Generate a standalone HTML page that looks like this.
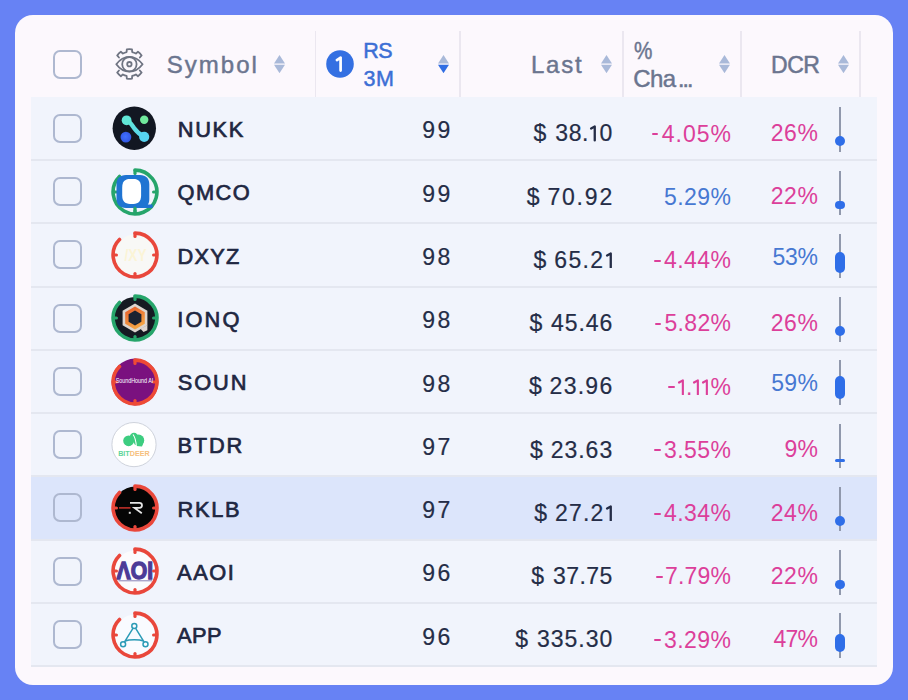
<!DOCTYPE html>
<html><head><meta charset="utf-8">
<style>
*{margin:0;padding:0;box-sizing:border-box}
html,body{width:908px;height:700px;overflow:hidden;background:#6782f4;font-family:"Liberation Sans",sans-serif}
.card{position:absolute;left:15px;top:15px;width:878px;height:670px;border-radius:18px;background:#fcf8fd}
.abs{position:absolute}
.bodybg{position:absolute;left:31px;top:96.7px;width:846px;height:570.5px;background:#f1f4fc}
.vd{position:absolute;top:31px;width:1.6px;height:65.5px;background:#ebe7f0}
.cb{position:absolute;left:53px;width:29px;height:29px;border:2px solid #aeb8d0;border-radius:7px}
.sep{position:absolute;left:31px;width:846px;height:2px;background:#e4e7f0}
.t{position:absolute;white-space:nowrap;line-height:1;font-family:"Liberation Sans",sans-serif}
.line{position:absolute;left:838.8px;width:1.9px;height:44.6px;background:#9098ac}
.body{position:absolute;background:#2f6ee8}
.arr{position:absolute;width:11px;height:18.2px}
.logo{position:absolute;width:52px;height:52px}
.logo svg{display:block}
</style></head><body>
<div class="card"></div>
<div class="bodybg"></div>
<div class="abs" style="left:31px;top:476.40px;width:846px;height:63.26px;background:#dce5fb"></div>
<div class="sep" style="top:159px"></div>
<div class="sep" style="top:222px"></div>
<div class="sep" style="top:286px"></div>
<div class="sep" style="top:349px"></div>
<div class="sep" style="top:412px"></div>
<div class="sep" style="top:475px"></div>
<div class="sep" style="top:539px"></div>
<div class="sep" style="top:602px"></div>
<div class="sep" style="top:665px"></div>
<div class="cb" style="top:113.87px"></div>
<div class="logo" style="left:109.3px;top:102.57px"><svg width="52" height="52" viewBox="0 0 52 52"><defs><linearGradient id="nk" x1="0" y1="0" x2="1" y2="1"><stop offset="0" stop-color="#62e6d6"/><stop offset="1" stop-color="#56d4f2"/></linearGradient><radialGradient id="nb" cx="0.45" cy="0.45" r="0.6"><stop offset="0" stop-color="#4070ff"/><stop offset="1" stop-color="#3155e0"/></radialGradient></defs><circle cx="25.3" cy="25.2" r="21.7" fill="#121722"/><path d="M17.5 17.4C21 18.5 22.5 21.5 25 25S30.5 31.5 35.2 33.8" fill="none" stroke="url(#nk)" stroke-width="4.4" stroke-linecap="round"/><circle cx="17.6" cy="17.3" r="4.9" fill="#61e7d7"/><circle cx="35.2" cy="16.7" r="4.2" fill="#70e89c"/><circle cx="16.9" cy="34.1" r="5.4" fill="url(#nb)"/><circle cx="35.2" cy="33.8" r="5.1" fill="#57d4f2"/></svg></div>
<div class="line" style="top:107.24px"></div>
<div class="body" style="top:136.04px;height:10px;width:10px;left:834.80px;border-radius:5.0px"></div>
<div class="cb" style="top:177.13px"></div>
<div class="logo" style="left:109.3px;top:165.83px"><svg width="52" height="52" viewBox="0 0 52 52"><path d="M26 4.1A21.9 21.9 0 1 1 10.51 10.51" fill="none" stroke="#26a56b" stroke-width="3.6" stroke-linecap="round"/><g stroke="#26a56b" stroke-width="3.2" stroke-linecap="round"><path d="M26 4.5V7.4"/><path d="M47.5 26H44.6"/><path d="M26 47.5V44.6"/><path d="M4.5 26H7.4"/></g><path d="M17 9H31C37 9 40.3 12.5 40.3 18.5V33C40.3 35.5 39.8 37.3 38.8 38.6H43.6V42H17C10.8 42 7.5 38.5 7.5 32.5V18.5C7.5 12.5 10.8 9 17 9Z" fill="#1f74d2"/><path d="M21 12.9H24.5C29.5 12.9 32.1 15.5 32.1 21.5V29.3C32.1 35.3 29.5 37.9 24.5 37.9H21C15.8 37.9 13.2 35.3 13.2 29.3V21.5C13.2 15.5 15.8 12.9 21 12.9Z" fill="#ffffff"/><path d="M26 42.2V47.5" stroke="#26a56b" stroke-width="3.2" stroke-linecap="round"/></svg></div>
<div class="line" style="top:170.50px"></div>
<div class="body" style="top:200.50px;height:8.6px;width:9.8px;left:834.90px;border-radius:4.3px"></div>
<div class="cb" style="top:240.39px"></div>
<div class="logo" style="left:109.3px;top:229.09px"><svg width="52" height="52" viewBox="0 0 52 52"><circle cx="26" cy="26" r="20.5" fill="#f8f8f6"/><text x="26.5" y="32" font-family="Liberation Sans" font-size="17" font-weight="bold" fill="#fbf4d6" text-anchor="middle" textLength="22" lengthAdjust="spacingAndGlyphs">/XY</text><path d="M26 4.1A21.9 21.9 0 1 1 10.51 10.51" fill="none" stroke="#e9473b" stroke-width="3.6" stroke-linecap="round"/><g stroke="#e9473b" stroke-width="3.2" stroke-linecap="round"><path d="M26 4.5V7.4"/><path d="M47.5 26H44.6"/><path d="M26 47.5V44.6"/><path d="M4.5 26H7.4"/></g></svg></div>
<div class="line" style="top:233.76px"></div>
<div class="body" style="top:252.46px;height:20.1px;width:10px;left:834.80px;border-radius:5.0px"></div>
<div class="cb" style="top:303.65px"></div>
<div class="logo" style="left:109.3px;top:292.35px"><svg width="52" height="52" viewBox="0 0 52 52"><defs><linearGradient id="iq" x1="0" y1="0" x2="0.4" y2="1"><stop offset="0" stop-color="#e65a2a"/><stop offset="1" stop-color="#f4a444"/></linearGradient></defs><circle cx="26" cy="26" r="21" fill="#151a22"/><path d="M26 4.1A21.9 21.9 0 1 1 10.51 10.51" fill="none" stroke="#26a56b" stroke-width="3.6" stroke-linecap="round"/><g stroke="#26a56b" stroke-width="3.2" stroke-linecap="round"><path d="M26 4.5V7.4"/><path d="M47.5 26H44.6"/><path d="M26 47.5V44.6"/><path d="M4.5 26H7.4"/></g><path d="M26 11.6L38.4 18.8V33.2L26 40.4L13.6 33.2V18.8Z" fill="#dcd5cf"/><path d="M26 14.6L35.8 20.3V31.7L26 37.4L16.2 31.7V20.3Z" fill="url(#iq)"/><path d="M26 18.6L32.4 22.3V29.7L26 33.4L19.6 29.7V22.3Z" fill="#1a2231"/><path d="M31.5 36.8L38.4 33V38.3L34.5 40Z" fill="#dcd5cf"/></svg></div>
<div class="line" style="top:297.02px"></div>
<div class="body" style="top:326.02px;height:10px;width:10px;left:834.80px;border-radius:5.0px"></div>
<div class="cb" style="top:366.91px"></div>
<div class="logo" style="left:109.3px;top:355.61px"><svg width="52" height="52" viewBox="0 0 52 52"><circle cx="26" cy="26" r="23.4" fill="#7a117f"/><path d="M26 4.1A21.9 21.9 0 1 1 10.51 10.51" fill="none" stroke="#ee4a35" stroke-width="3.6" stroke-linecap="round"/><g stroke="#ee4a35" stroke-width="3.2" stroke-linecap="round"><path d="M26 4.5V7.4"/><path d="M47.5 26H44.6"/><path d="M26 47.5V44.6"/><path d="M4.5 26H7.4"/></g><text x="25.5" y="27.4" font-family="Liberation Sans" font-size="6.8" fill="#ffffff" text-anchor="middle" textLength="37.5" lengthAdjust="spacingAndGlyphs">SoundHound AI</text></svg></div>
<div class="line" style="top:360.28px"></div>
<div class="body" style="top:375.58px;height:23.6px;width:10px;left:834.80px;border-radius:5.0px"></div>
<div class="cb" style="top:430.17px"></div>
<div class="logo" style="left:109.3px;top:418.87px"><svg width="52" height="52" viewBox="0 0 52 52"><circle cx="25" cy="25.6" r="22.1" fill="#ffffff" stroke="#cfd3dc" stroke-width="1"/><g fill="#3dcd80"><circle cx="19.6" cy="21.8" r="5.4"/><circle cx="29.6" cy="21.2" r="5.6"/><circle cx="25" cy="18" r="4.2"/><path d="M26 22L35 22.5L33 27.4L27.5 27Z"/></g><path d="M24 15.5C26 18 27 22 27.3 27.5" stroke="#ffffff" stroke-width="1.1" fill="none"/><text x="24.9" y="37.2" font-family="Liberation Sans" font-size="6.6" font-weight="bold" text-anchor="middle" textLength="31.5" lengthAdjust="spacingAndGlyphs"><tspan fill="#5fd59a">BIT</tspan><tspan fill="#f6c07d">DEER</tspan></text></svg></div>
<div class="line" style="top:423.54px"></div>
<div class="body" style="top:458.54px;height:3.8px;width:10.5px;left:834.55px;border-radius:1.9px"></div>
<div class="cb" style="top:493.43px"></div>
<div class="logo" style="left:109.3px;top:482.13px"><svg width="52" height="52" viewBox="0 0 52 52"><circle cx="26" cy="26" r="21.5" fill="#050505"/><path d="M26 4.1A21.9 21.9 0 1 1 10.51 10.51" fill="none" stroke="#e9473b" stroke-width="3.6" stroke-linecap="round"/><g stroke="#e9473b" stroke-width="3.2" stroke-linecap="round"><path d="M26 4.5V7.4"/><path d="M47.5 26H44.6"/><path d="M26 47.5V44.6"/><path d="M4.5 26H7.4"/></g><path d="M21 20.9H30.5C33.6 20.9 34 25.7 30.5 25.9H25.5L32.8 31.2" fill="none" stroke="#e6e6e6" stroke-width="1.8"/><path d="M10 25.9H21.5" stroke="#d8342c" stroke-width="1.4"/><rect x="19.8" y="29.8" width="2" height="2" fill="#d9d9d9"/></svg></div>
<div class="line" style="top:486.80px"></div>
<div class="body" style="top:516.40px;height:10px;width:10px;left:834.80px;border-radius:5.0px"></div>
<div class="cb" style="top:556.69px"></div>
<div class="logo" style="left:109.3px;top:545.39px"><svg width="52" height="52" viewBox="0 0 52 52"><circle cx="26" cy="26" r="20.5" fill="#fbfbfd"/><text x="25.8" y="33.6" font-family="Liberation Sans" font-size="24" font-weight="bold" fill="#4c3b97" stroke="#4c3b97" stroke-width="1.3" text-anchor="middle" textLength="36.5" lengthAdjust="spacingAndGlyphs">&#923;OI</text><path d="M9.5 35.8H43" stroke="#7d74b0" stroke-width="0.9"/><path d="M26 4.1A21.9 21.9 0 1 1 10.51 10.51" fill="none" stroke="#e9473b" stroke-width="3.6" stroke-linecap="round"/><g stroke="#e9473b" stroke-width="3.2" stroke-linecap="round"><path d="M26 4.5V7.4"/><path d="M47.5 26H44.6"/><path d="M26 47.5V44.6"/><path d="M4.5 26H7.4"/></g></svg></div>
<div class="line" style="top:550.06px"></div>
<div class="body" style="top:580.36px;height:8.8px;width:9.6px;left:835.00px;border-radius:4.4px"></div>
<div class="cb" style="top:619.95px"></div>
<div class="logo" style="left:109.3px;top:608.65px"><svg width="52" height="52" viewBox="0 0 52 52"><circle cx="26" cy="26" r="20.5" fill="#f9fbff"/><path d="M26 4.1A21.9 21.9 0 1 1 10.51 10.51" fill="none" stroke="#e9473b" stroke-width="3.6" stroke-linecap="round"/><g stroke="#e9473b" stroke-width="3.2" stroke-linecap="round"><path d="M26 4.5V7.4"/><path d="M47.5 26H44.6"/><path d="M26 47.5V44.6"/><path d="M4.5 26H7.4"/></g><g fill="none" stroke="#2b9bb6" stroke-width="1.5"><path d="M24.1 19.2L15.4 33.2M26.5 19.2L35.2 33.2M16.4 32C20 30.3 30.5 30.3 34.3 32"/><circle cx="25.3" cy="17.05" r="2.5" fill="#f9fbff"/><circle cx="14.1" cy="35.25" r="2.5" fill="#f9fbff"/><circle cx="36.5" cy="35.25" r="2.5" fill="#f9fbff"/></g></svg></div>
<div class="line" style="top:613.32px"></div>
<div class="body" style="top:634.02px;height:18px;width:10px;left:834.80px;border-radius:5.0px"></div>
<div class="abs" style="left:651.90px;top:133px;width:6.6px;height:2px;border-radius:1px;background:#dc3f9a"></div>
<div class="abs" style="left:654.10px;top:260px;width:6.6px;height:2px;border-radius:1px;background:#dc3f9a"></div>
<div class="abs" style="left:654.60px;top:323px;width:6.6px;height:2px;border-radius:1px;background:#dc3f9a"></div>
<div class="abs" style="left:668.20px;top:386px;width:6.6px;height:2px;border-radius:1px;background:#dc3f9a"></div>
<div class="abs" style="left:654.10px;top:449px;width:6.6px;height:2px;border-radius:1px;background:#dc3f9a"></div>
<div class="abs" style="left:654.10px;top:513px;width:6.6px;height:2px;border-radius:1px;background:#dc3f9a"></div>
<div class="abs" style="left:656.00px;top:576px;width:6.6px;height:2px;border-radius:1px;background:#dc3f9a"></div>
<div class="abs" style="left:654.10px;top:639px;width:6.6px;height:2px;border-radius:1px;background:#dc3f9a"></div>

<!-- header -->
<div class="cb" style="top:50px"></div>
<svg class="abs" style="left:114px;top:48px" width="31" height="32" viewBox="0 0 31 32">
  <g fill="none" stroke="#6f7482" stroke-width="1.8" stroke-linejoin="round" stroke-linecap="round">
    <path d="M4.97 9.48L3.19 7.45A14.9 14.9 0 0 1 6.85 3.79L8.88 5.57A12.3 12.3 0 0 1 12.63 4.02L12.81 1.33A14.9 14.9 0 0 1 17.99 1.33L18.17 4.02A12.3 12.3 0 0 1 21.92 5.57L23.95 3.79A14.9 14.9 0 0 1 27.61 7.45L25.83 9.48"/><path d="M25.83 22.52L27.61 24.55A14.9 14.9 0 0 1 23.95 28.21L21.92 26.43A12.3 12.3 0 0 1 18.17 27.98L17.99 30.67A14.9 14.9 0 0 1 12.81 30.67L12.63 27.98A12.3 12.3 0 0 1 8.88 26.43L6.85 28.21A14.9 14.9 0 0 1 3.19 24.55L4.97 22.52"/>
    <path d="M2.3 16.3C6 11.3 10.2 8.9 15.4 8.9S24.8 11.3 28.6 16.3C24.8 21.3 20.6 23.7 15.4 23.7S6 21.3 2.3 16.3Z"/>
    <circle cx="15.4" cy="16.2" r="7.2"/>
    <circle cx="15.4" cy="16.2" r="2.2"/>
  </g>
</svg>
<svg class="arr" style="left:274px;top:55.1px" viewBox="0 0 11 18.2"><path d="M5.5 0L11 8.5H0z" fill="#a9b9d9"/><path d="M5.5 18.2L11 9.7H0z" fill="#a9b9d9"/></svg>
<div class="vd" style="left:314.6px"></div>
<svg class="abs" style="left:326px;top:50px" width="28" height="28" viewBox="0 0 28 28"><circle cx="14" cy="14" r="13.8" fill="#3470e2"/><path d="M10.9 10.1L14.6 7.6V20.6" fill="none" stroke="#fff" stroke-width="2.7" stroke-linecap="round" stroke-linejoin="round"/></svg>
<svg class="arr" style="left:438.4px;top:55.1px" viewBox="0 0 11 18.2"><path d="M5.5 0L11 8.5H0z" fill="#a9b9d9"/><path d="M5.5 18.2L11 9.7H0z" fill="#306de3"/></svg>
<div class="vd" style="left:459.2px"></div>
<svg class="arr" style="left:600.7px;top:55.1px" viewBox="0 0 11 18.2"><path d="M5.5 0L11 8.5H0z" fill="#a9b9d9"/><path d="M5.5 18.2L11 9.7H0z" fill="#a9b9d9"/></svg>
<div class="vd" style="left:622px"></div>
<svg class="arr" style="left:719.1px;top:55.1px" viewBox="0 0 11 18.2"><path d="M5.5 0L11 8.5H0z" fill="#a9b9d9"/><path d="M5.5 18.2L11 9.7H0z" fill="#a9b9d9"/></svg>
<div class="vd" style="left:740px"></div>
<svg class="arr" style="left:837.9px;top:55.1px" viewBox="0 0 11 18.2"><path d="M5.5 0L11 8.5H0z" fill="#a9b9d9"/><path d="M5.5 18.2L11 9.7H0z" fill="#a9b9d9"/></svg>
<div class="vd" style="left:859px"></div>

<span class="t" style="left:166.80px;top:53.08px;font-size:24px;color:#6b758f;-webkit-text-stroke:0.45px #6b758f">S</span>
<span class="t" style="left:184.81px;top:53.08px;font-size:24px;color:#6b758f;-webkit-text-stroke:0.45px #6b758f">y</span>
<span class="t" style="left:198.81px;top:53.08px;font-size:24px;color:#6b758f;-webkit-text-stroke:0.45px #6b758f">m</span>
<span class="t" style="left:220.80px;top:53.08px;font-size:24px;color:#6b758f;-webkit-text-stroke:0.45px #6b758f">b</span>
<span class="t" style="left:236.15px;top:53.08px;font-size:24px;color:#6b758f;-webkit-text-stroke:0.45px #6b758f">o</span>
<span class="t" style="left:251.50px;top:53.08px;font-size:24px;color:#6b758f;-webkit-text-stroke:0.45px #6b758f">l</span>
<span class="t" style="left:363.20px;top:41.00px;font-size:21.5px;color:#3c6fd5;-webkit-text-stroke:0.5px #3c6fd5">R</span>
<span class="t" style="left:378.30px;top:41.00px;font-size:21.5px;color:#3c6fd5;-webkit-text-stroke:0.5px #3c6fd5">S</span>
<span class="t" style="left:363.40px;top:69.10px;font-size:21.5px;color:#3c6fd5;-webkit-text-stroke:0.5px #3c6fd5">3</span>
<span class="t" style="left:376.10px;top:69.10px;font-size:21.5px;color:#3c6fd5;-webkit-text-stroke:0.5px #3c6fd5">M</span>
<span class="t" style="left:531.00px;top:52.88px;font-size:24px;color:#6b758f;-webkit-text-stroke:0.45px #6b758f">L</span>
<span class="t" style="left:546.12px;top:52.88px;font-size:24px;color:#6b758f;-webkit-text-stroke:0.45px #6b758f">a</span>
<span class="t" style="left:561.23px;top:52.88px;font-size:24px;color:#6b758f;-webkit-text-stroke:0.45px #6b758f">s</span>
<span class="t" style="left:575.00px;top:52.88px;font-size:24px;color:#6b758f;-webkit-text-stroke:0.45px #6b758f">t</span>
<span class="t" style="left:634.00px;top:39.51px;font-size:23.5px;color:#6b758f;-webkit-text-stroke:0.45px #6b758f;transform:scaleX(0.88);transform-origin:0 0">%</span>
<span class="t" style="left:633.20px;top:66.88px;font-size:24px;color:#6b758f;-webkit-text-stroke:0.45px #6b758f">C</span>
<span class="t" style="left:649.99px;top:66.88px;font-size:24px;color:#6b758f;-webkit-text-stroke:0.45px #6b758f">h</span>
<span class="t" style="left:662.80px;top:66.88px;font-size:24px;color:#6b758f;-webkit-text-stroke:0.45px #6b758f">a</span>
<span class="t" style="left:678.00px;top:67.73px;font-size:23px;color:#6b758f;-webkit-text-stroke:0.5px #6b758f">.</span>
<span class="t" style="left:682.50px;top:67.73px;font-size:23px;color:#6b758f;-webkit-text-stroke:0.5px #6b758f">.</span>
<span class="t" style="left:687.00px;top:67.73px;font-size:23px;color:#6b758f;-webkit-text-stroke:0.5px #6b758f">.</span>
<span class="t" style="left:771.00px;top:53.73px;font-size:23px;color:#6b758f;-webkit-text-stroke:0.5px #6b758f">D</span>
<span class="t" style="left:787.15px;top:53.73px;font-size:23px;color:#6b758f;-webkit-text-stroke:0.5px #6b758f">C</span>
<span class="t" style="left:803.30px;top:53.73px;font-size:23px;color:#6b758f;-webkit-text-stroke:0.5px #6b758f">R</span>
<span class="t" style="left:177.70px;top:118.99px;font-size:21.8px;color:#1f2742;-webkit-text-stroke:0.7px #1f2742">N</span>
<span class="t" style="left:195.13px;top:118.99px;font-size:21.8px;color:#1f2742;-webkit-text-stroke:0.7px #1f2742">U</span>
<span class="t" style="left:212.57px;top:118.99px;font-size:21.8px;color:#1f2742;-webkit-text-stroke:0.7px #1f2742">K</span>
<span class="t" style="left:228.80px;top:118.99px;font-size:21.8px;color:#1f2742;-webkit-text-stroke:0.7px #1f2742">K</span>
<span class="t" style="left:422.30px;top:119.47px;font-size:23px;color:#252d47;-webkit-text-stroke:0.2px #252d47">9</span>
<span class="t" style="left:437.50px;top:119.47px;font-size:23px;color:#252d47;-webkit-text-stroke:0.2px #252d47">9</span>
<span class="t" style="left:533.50px;top:122.37px;font-size:23px;color:#252d47;-webkit-text-stroke:0.2px #252d47">$</span>
<span class="t" style="left:555.20px;top:122.37px;font-size:23px;color:#252d47;-webkit-text-stroke:0.2px #252d47">3</span>
<span class="t" style="left:568.66px;top:122.37px;font-size:23px;color:#252d47;-webkit-text-stroke:0.2px #252d47">8</span>
<span class="t" style="left:582.12px;top:122.37px;font-size:23px;color:#252d47;-webkit-text-stroke:0.2px #252d47">.</span>
<svg class="abs" style="left:589.18px;top:123.44px" width="9.7" height="18.4" viewBox="0 0 9.66 18.40"><path d="M2.07 5.52L5.74 3.46V17.44" fill="none" stroke="#252d47" stroke-width="2.32" stroke-linecap="round" stroke-linejoin="round"/></svg>
<span class="t" style="left:599.40px;top:122.37px;font-size:23px;color:#252d47;-webkit-text-stroke:0.2px #252d47">0</span>
<span class="t" style="left:661.80px;top:122.57px;font-size:23px;color:#dc3f9a;-webkit-text-stroke:0px #dc3f9a">4</span>
<span class="t" style="left:675.58px;top:122.57px;font-size:23px;color:#dc3f9a;-webkit-text-stroke:0px #dc3f9a">.</span>
<span class="t" style="left:682.95px;top:122.57px;font-size:23px;color:#dc3f9a;-webkit-text-stroke:0px #dc3f9a">0</span>
<span class="t" style="left:696.72px;top:122.57px;font-size:23px;color:#dc3f9a;-webkit-text-stroke:0px #dc3f9a">5</span>
<span class="t" style="left:710.50px;top:122.57px;font-size:23px;color:#dc3f9a;-webkit-text-stroke:0px #dc3f9a">%</span>
<span class="t" style="left:770.80px;top:122.07px;font-size:23px;color:#dc3f9a;-webkit-text-stroke:0px #dc3f9a">2</span>
<span class="t" style="left:784.10px;top:122.07px;font-size:23px;color:#dc3f9a;-webkit-text-stroke:0px #dc3f9a">6</span>
<span class="t" style="left:797.40px;top:122.07px;font-size:23px;color:#dc3f9a;-webkit-text-stroke:0px #dc3f9a">%</span>
<span class="t" style="left:177.50px;top:182.25px;font-size:21.8px;color:#1f2742;-webkit-text-stroke:0.7px #1f2742">Q</span>
<span class="t" style="left:195.94px;top:182.25px;font-size:21.8px;color:#1f2742;-webkit-text-stroke:0.7px #1f2742">M</span>
<span class="t" style="left:215.58px;top:182.25px;font-size:21.8px;color:#1f2742;-webkit-text-stroke:0.7px #1f2742">C</span>
<span class="t" style="left:232.80px;top:182.25px;font-size:21.8px;color:#1f2742;-webkit-text-stroke:0.7px #1f2742">O</span>
<span class="t" style="left:422.30px;top:182.73px;font-size:23px;color:#252d47;-webkit-text-stroke:0.2px #252d47">9</span>
<span class="t" style="left:437.50px;top:182.73px;font-size:23px;color:#252d47;-webkit-text-stroke:0.2px #252d47">9</span>
<span class="t" style="left:526.70px;top:185.63px;font-size:23px;color:#252d47;-webkit-text-stroke:0.2px #252d47">$</span>
<span class="t" style="left:547.40px;top:185.63px;font-size:23px;color:#252d47;-webkit-text-stroke:0.2px #252d47">7</span>
<span class="t" style="left:562.00px;top:185.63px;font-size:23px;color:#252d47;-webkit-text-stroke:0.2px #252d47">0</span>
<span class="t" style="left:576.60px;top:185.63px;font-size:23px;color:#252d47;-webkit-text-stroke:0.2px #252d47">.</span>
<span class="t" style="left:584.80px;top:185.63px;font-size:23px;color:#252d47;-webkit-text-stroke:0.2px #252d47">9</span>
<span class="t" style="left:599.40px;top:185.63px;font-size:23px;color:#252d47;-webkit-text-stroke:0.2px #252d47">2</span>
<span class="t" style="left:663.90px;top:185.83px;font-size:23px;color:#4778d2;-webkit-text-stroke:0px #4778d2">5</span>
<span class="t" style="left:677.15px;top:185.83px;font-size:23px;color:#4778d2;-webkit-text-stroke:0px #4778d2">.</span>
<span class="t" style="left:684.00px;top:185.83px;font-size:23px;color:#4778d2;-webkit-text-stroke:0px #4778d2">2</span>
<span class="t" style="left:697.25px;top:185.83px;font-size:23px;color:#4778d2;-webkit-text-stroke:0px #4778d2">9</span>
<span class="t" style="left:710.50px;top:185.83px;font-size:23px;color:#4778d2;-webkit-text-stroke:0px #4778d2">%</span>
<span class="t" style="left:770.80px;top:185.33px;font-size:23px;color:#dc3f9a;-webkit-text-stroke:0px #dc3f9a">2</span>
<span class="t" style="left:784.10px;top:185.33px;font-size:23px;color:#dc3f9a;-webkit-text-stroke:0px #dc3f9a">2</span>
<span class="t" style="left:797.40px;top:185.33px;font-size:23px;color:#dc3f9a;-webkit-text-stroke:0px #dc3f9a">%</span>
<span class="t" style="left:177.50px;top:245.51px;font-size:21.8px;color:#1f2742;-webkit-text-stroke:0.7px #1f2742">D</span>
<span class="t" style="left:194.50px;top:245.51px;font-size:21.8px;color:#1f2742;-webkit-text-stroke:0.7px #1f2742">X</span>
<span class="t" style="left:210.30px;top:245.51px;font-size:21.8px;color:#1f2742;-webkit-text-stroke:0.7px #1f2742">Y</span>
<span class="t" style="left:226.10px;top:245.51px;font-size:21.8px;color:#1f2742;-webkit-text-stroke:0.7px #1f2742">Z</span>
<span class="t" style="left:422.30px;top:245.99px;font-size:23px;color:#252d47;-webkit-text-stroke:0.2px #252d47">9</span>
<span class="t" style="left:437.50px;top:245.99px;font-size:23px;color:#252d47;-webkit-text-stroke:0.2px #252d47">8</span>
<span class="t" style="left:533.50px;top:248.89px;font-size:23px;color:#252d47;-webkit-text-stroke:0.2px #252d47">$</span>
<span class="t" style="left:554.20px;top:248.89px;font-size:23px;color:#252d47;-webkit-text-stroke:0.2px #252d47">6</span>
<span class="t" style="left:568.38px;top:248.89px;font-size:23px;color:#252d47;-webkit-text-stroke:0.2px #252d47">5</span>
<span class="t" style="left:582.55px;top:248.89px;font-size:23px;color:#252d47;-webkit-text-stroke:0.2px #252d47">.</span>
<span class="t" style="left:590.32px;top:248.89px;font-size:23px;color:#252d47;-webkit-text-stroke:0.2px #252d47">2</span>
<svg class="abs" style="left:604.50px;top:249.96px" width="9.7" height="18.4" viewBox="0 0 9.66 18.40"><path d="M2.07 5.52L5.74 3.46V17.44" fill="none" stroke="#252d47" stroke-width="2.32" stroke-linecap="round" stroke-linejoin="round"/></svg>
<span class="t" style="left:664.00px;top:249.09px;font-size:23px;color:#dc3f9a;-webkit-text-stroke:0px #dc3f9a">4</span>
<span class="t" style="left:677.23px;top:249.09px;font-size:23px;color:#dc3f9a;-webkit-text-stroke:0px #dc3f9a">.</span>
<span class="t" style="left:684.05px;top:249.09px;font-size:23px;color:#dc3f9a;-webkit-text-stroke:0px #dc3f9a">4</span>
<span class="t" style="left:697.27px;top:249.09px;font-size:23px;color:#dc3f9a;-webkit-text-stroke:0px #dc3f9a">4</span>
<span class="t" style="left:710.50px;top:249.09px;font-size:23px;color:#dc3f9a;-webkit-text-stroke:0px #dc3f9a">%</span>
<span class="t" style="left:772.60px;top:245.59px;font-size:23px;color:#4778d2;-webkit-text-stroke:0px #4778d2">5</span>
<span class="t" style="left:785.00px;top:245.59px;font-size:23px;color:#4778d2;-webkit-text-stroke:0px #4778d2">3</span>
<span class="t" style="left:797.40px;top:245.59px;font-size:23px;color:#4778d2;-webkit-text-stroke:0px #4778d2">%</span>
<span class="t" style="left:177.20px;top:308.77px;font-size:21.8px;color:#1f2742;-webkit-text-stroke:0.7px #1f2742">I</span>
<span class="t" style="left:185.41px;top:308.77px;font-size:21.8px;color:#1f2742;-webkit-text-stroke:0.7px #1f2742">O</span>
<span class="t" style="left:204.51px;top:308.77px;font-size:21.8px;color:#1f2742;-webkit-text-stroke:0.7px #1f2742">N</span>
<span class="t" style="left:222.40px;top:308.77px;font-size:21.8px;color:#1f2742;-webkit-text-stroke:0.7px #1f2742">Q</span>
<span class="t" style="left:422.30px;top:309.25px;font-size:23px;color:#252d47;-webkit-text-stroke:0.2px #252d47">9</span>
<span class="t" style="left:437.50px;top:309.25px;font-size:23px;color:#252d47;-webkit-text-stroke:0.2px #252d47">8</span>
<span class="t" style="left:529.40px;top:312.15px;font-size:23px;color:#252d47;-webkit-text-stroke:0.2px #252d47">$</span>
<span class="t" style="left:551.10px;top:312.15px;font-size:23px;color:#252d47;-webkit-text-stroke:0.2px #252d47">4</span>
<span class="t" style="left:564.78px;top:312.15px;font-size:23px;color:#252d47;-webkit-text-stroke:0.2px #252d47">5</span>
<span class="t" style="left:578.45px;top:312.15px;font-size:23px;color:#252d47;-webkit-text-stroke:0.2px #252d47">.</span>
<span class="t" style="left:585.72px;top:312.15px;font-size:23px;color:#252d47;-webkit-text-stroke:0.2px #252d47">4</span>
<span class="t" style="left:599.40px;top:312.15px;font-size:23px;color:#252d47;-webkit-text-stroke:0.2px #252d47">6</span>
<span class="t" style="left:664.50px;top:312.35px;font-size:23px;color:#dc3f9a;-webkit-text-stroke:0px #dc3f9a">5</span>
<span class="t" style="left:677.60px;top:312.35px;font-size:23px;color:#dc3f9a;-webkit-text-stroke:0px #dc3f9a">.</span>
<span class="t" style="left:684.30px;top:312.35px;font-size:23px;color:#dc3f9a;-webkit-text-stroke:0px #dc3f9a">8</span>
<span class="t" style="left:697.40px;top:312.35px;font-size:23px;color:#dc3f9a;-webkit-text-stroke:0px #dc3f9a">2</span>
<span class="t" style="left:710.50px;top:312.35px;font-size:23px;color:#dc3f9a;-webkit-text-stroke:0px #dc3f9a">%</span>
<span class="t" style="left:770.80px;top:311.85px;font-size:23px;color:#dc3f9a;-webkit-text-stroke:0px #dc3f9a">2</span>
<span class="t" style="left:784.10px;top:311.85px;font-size:23px;color:#dc3f9a;-webkit-text-stroke:0px #dc3f9a">6</span>
<span class="t" style="left:797.40px;top:311.85px;font-size:23px;color:#dc3f9a;-webkit-text-stroke:0px #dc3f9a">%</span>
<span class="t" style="left:177.80px;top:372.03px;font-size:21.8px;color:#1f2742;-webkit-text-stroke:0.7px #1f2742">S</span>
<span class="t" style="left:194.23px;top:372.03px;font-size:21.8px;color:#1f2742;-webkit-text-stroke:0.7px #1f2742">O</span>
<span class="t" style="left:213.07px;top:372.03px;font-size:21.8px;color:#1f2742;-webkit-text-stroke:0.7px #1f2742">U</span>
<span class="t" style="left:230.70px;top:372.03px;font-size:21.8px;color:#1f2742;-webkit-text-stroke:0.7px #1f2742">N</span>
<span class="t" style="left:422.30px;top:372.51px;font-size:23px;color:#252d47;-webkit-text-stroke:0.2px #252d47">9</span>
<span class="t" style="left:437.50px;top:372.51px;font-size:23px;color:#252d47;-webkit-text-stroke:0.2px #252d47">8</span>
<span class="t" style="left:528.90px;top:375.41px;font-size:23px;color:#252d47;-webkit-text-stroke:0.2px #252d47">$</span>
<span class="t" style="left:549.60px;top:375.41px;font-size:23px;color:#252d47;-webkit-text-stroke:0.2px #252d47">2</span>
<span class="t" style="left:563.65px;top:375.41px;font-size:23px;color:#252d47;-webkit-text-stroke:0.2px #252d47">3</span>
<span class="t" style="left:577.70px;top:375.41px;font-size:23px;color:#252d47;-webkit-text-stroke:0.2px #252d47">.</span>
<span class="t" style="left:585.35px;top:375.41px;font-size:23px;color:#252d47;-webkit-text-stroke:0.2px #252d47">9</span>
<span class="t" style="left:599.40px;top:375.41px;font-size:23px;color:#252d47;-webkit-text-stroke:0.2px #252d47">6</span>
<svg class="abs" style="left:676.72px;top:376.68px" width="9.7" height="18.4" viewBox="0 0 9.66 18.40"><path d="M2.01 5.52L5.84 3.36V17.54" fill="none" stroke="#dc3f9a" stroke-width="2.12" stroke-linecap="round" stroke-linejoin="round"/></svg>
<span class="t" style="left:685.95px;top:375.61px;font-size:23px;color:#dc3f9a;-webkit-text-stroke:0px #dc3f9a">.</span>
<svg class="abs" style="left:692.03px;top:376.68px" width="9.7" height="18.4" viewBox="0 0 9.66 18.40"><path d="M2.01 5.52L5.84 3.36V17.54" fill="none" stroke="#dc3f9a" stroke-width="2.12" stroke-linecap="round" stroke-linejoin="round"/></svg>
<svg class="abs" style="left:701.27px;top:376.68px" width="9.7" height="18.4" viewBox="0 0 9.66 18.40"><path d="M2.01 5.52L5.84 3.36V17.54" fill="none" stroke="#dc3f9a" stroke-width="2.12" stroke-linecap="round" stroke-linejoin="round"/></svg>
<span class="t" style="left:710.50px;top:375.61px;font-size:23px;color:#dc3f9a;-webkit-text-stroke:0px #dc3f9a">%</span>
<span class="t" style="left:771.30px;top:372.11px;font-size:23px;color:#4778d2;-webkit-text-stroke:0px #4778d2">5</span>
<span class="t" style="left:784.35px;top:372.11px;font-size:23px;color:#4778d2;-webkit-text-stroke:0px #4778d2">9</span>
<span class="t" style="left:797.40px;top:372.11px;font-size:23px;color:#4778d2;-webkit-text-stroke:0px #4778d2">%</span>
<span class="t" style="left:177.50px;top:435.29px;font-size:21.8px;color:#1f2742;-webkit-text-stroke:0.7px #1f2742">B</span>
<span class="t" style="left:193.87px;top:435.29px;font-size:21.8px;color:#1f2742;-webkit-text-stroke:0.7px #1f2742">T</span>
<span class="t" style="left:209.02px;top:435.29px;font-size:21.8px;color:#1f2742;-webkit-text-stroke:0.7px #1f2742">D</span>
<span class="t" style="left:226.60px;top:435.29px;font-size:21.8px;color:#1f2742;-webkit-text-stroke:0.7px #1f2742">R</span>
<span class="t" style="left:422.30px;top:435.77px;font-size:23px;color:#252d47;-webkit-text-stroke:0.2px #252d47">9</span>
<span class="t" style="left:437.50px;top:435.77px;font-size:23px;color:#252d47;-webkit-text-stroke:0.2px #252d47">7</span>
<span class="t" style="left:530.00px;top:438.67px;font-size:23px;color:#252d47;-webkit-text-stroke:0.2px #252d47">$</span>
<span class="t" style="left:550.70px;top:438.67px;font-size:23px;color:#252d47;-webkit-text-stroke:0.2px #252d47">2</span>
<span class="t" style="left:564.48px;top:438.67px;font-size:23px;color:#252d47;-webkit-text-stroke:0.2px #252d47">3</span>
<span class="t" style="left:578.25px;top:438.67px;font-size:23px;color:#252d47;-webkit-text-stroke:0.2px #252d47">.</span>
<span class="t" style="left:585.62px;top:438.67px;font-size:23px;color:#252d47;-webkit-text-stroke:0.2px #252d47">6</span>
<span class="t" style="left:599.40px;top:438.67px;font-size:23px;color:#252d47;-webkit-text-stroke:0.2px #252d47">3</span>
<span class="t" style="left:664.00px;top:438.87px;font-size:23px;color:#dc3f9a;-webkit-text-stroke:0px #dc3f9a">3</span>
<span class="t" style="left:677.23px;top:438.87px;font-size:23px;color:#dc3f9a;-webkit-text-stroke:0px #dc3f9a">.</span>
<span class="t" style="left:684.05px;top:438.87px;font-size:23px;color:#dc3f9a;-webkit-text-stroke:0px #dc3f9a">5</span>
<span class="t" style="left:697.27px;top:438.87px;font-size:23px;color:#dc3f9a;-webkit-text-stroke:0px #dc3f9a">5</span>
<span class="t" style="left:710.50px;top:438.87px;font-size:23px;color:#dc3f9a;-webkit-text-stroke:0px #dc3f9a">%</span>
<span class="t" style="left:784.40px;top:438.37px;font-size:23px;color:#dc3f9a;-webkit-text-stroke:0px #dc3f9a">9</span>
<span class="t" style="left:797.40px;top:438.37px;font-size:23px;color:#dc3f9a;-webkit-text-stroke:0px #dc3f9a">%</span>
<span class="t" style="left:177.50px;top:498.55px;font-size:21.8px;color:#1f2742;-webkit-text-stroke:0.7px #1f2742">R</span>
<span class="t" style="left:194.97px;top:498.55px;font-size:21.8px;color:#1f2742;-webkit-text-stroke:0.7px #1f2742">K</span>
<span class="t" style="left:211.24px;top:498.55px;font-size:21.8px;color:#1f2742;-webkit-text-stroke:0.7px #1f2742">L</span>
<span class="t" style="left:225.10px;top:498.55px;font-size:21.8px;color:#1f2742;-webkit-text-stroke:0.7px #1f2742">B</span>
<span class="t" style="left:422.30px;top:499.03px;font-size:23px;color:#252d47;-webkit-text-stroke:0.2px #252d47">9</span>
<span class="t" style="left:437.50px;top:499.03px;font-size:23px;color:#252d47;-webkit-text-stroke:0.2px #252d47">7</span>
<span class="t" style="left:534.30px;top:501.93px;font-size:23px;color:#252d47;-webkit-text-stroke:0.2px #252d47">$</span>
<span class="t" style="left:555.00px;top:501.93px;font-size:23px;color:#252d47;-webkit-text-stroke:0.2px #252d47">2</span>
<span class="t" style="left:568.98px;top:501.93px;font-size:23px;color:#252d47;-webkit-text-stroke:0.2px #252d47">7</span>
<span class="t" style="left:582.95px;top:501.93px;font-size:23px;color:#252d47;-webkit-text-stroke:0.2px #252d47">.</span>
<span class="t" style="left:590.52px;top:501.93px;font-size:23px;color:#252d47;-webkit-text-stroke:0.2px #252d47">2</span>
<svg class="abs" style="left:604.50px;top:503.00px" width="9.7" height="18.4" viewBox="0 0 9.66 18.40"><path d="M2.07 5.52L5.74 3.46V17.44" fill="none" stroke="#252d47" stroke-width="2.32" stroke-linecap="round" stroke-linejoin="round"/></svg>
<span class="t" style="left:664.00px;top:502.13px;font-size:23px;color:#dc3f9a;-webkit-text-stroke:0px #dc3f9a">4</span>
<span class="t" style="left:677.23px;top:502.13px;font-size:23px;color:#dc3f9a;-webkit-text-stroke:0px #dc3f9a">.</span>
<span class="t" style="left:684.05px;top:502.13px;font-size:23px;color:#dc3f9a;-webkit-text-stroke:0px #dc3f9a">3</span>
<span class="t" style="left:697.27px;top:502.13px;font-size:23px;color:#dc3f9a;-webkit-text-stroke:0px #dc3f9a">4</span>
<span class="t" style="left:710.50px;top:502.13px;font-size:23px;color:#dc3f9a;-webkit-text-stroke:0px #dc3f9a">%</span>
<span class="t" style="left:770.80px;top:501.63px;font-size:23px;color:#dc3f9a;-webkit-text-stroke:0px #dc3f9a">2</span>
<span class="t" style="left:784.10px;top:501.63px;font-size:23px;color:#dc3f9a;-webkit-text-stroke:0px #dc3f9a">4</span>
<span class="t" style="left:797.40px;top:501.63px;font-size:23px;color:#dc3f9a;-webkit-text-stroke:0px #dc3f9a">%</span>
<span class="t" style="left:177.10px;top:561.81px;font-size:21.8px;color:#1f2742;-webkit-text-stroke:0.7px #1f2742">A</span>
<span class="t" style="left:193.19px;top:561.81px;font-size:21.8px;color:#1f2742;-webkit-text-stroke:0.7px #1f2742">A</span>
<span class="t" style="left:209.29px;top:561.81px;font-size:21.8px;color:#1f2742;-webkit-text-stroke:0.7px #1f2742">O</span>
<span class="t" style="left:227.80px;top:561.81px;font-size:21.8px;color:#1f2742;-webkit-text-stroke:0.7px #1f2742">I</span>
<span class="t" style="left:422.30px;top:562.29px;font-size:23px;color:#252d47;-webkit-text-stroke:0.2px #252d47">9</span>
<span class="t" style="left:437.50px;top:562.29px;font-size:23px;color:#252d47;-webkit-text-stroke:0.2px #252d47">6</span>
<span class="t" style="left:531.30px;top:565.19px;font-size:23px;color:#252d47;-webkit-text-stroke:0.2px #252d47">$</span>
<span class="t" style="left:553.00px;top:565.19px;font-size:23px;color:#252d47;-webkit-text-stroke:0.2px #252d47">3</span>
<span class="t" style="left:566.20px;top:565.19px;font-size:23px;color:#252d47;-webkit-text-stroke:0.2px #252d47">7</span>
<span class="t" style="left:579.40px;top:565.19px;font-size:23px;color:#252d47;-webkit-text-stroke:0.2px #252d47">.</span>
<span class="t" style="left:586.20px;top:565.19px;font-size:23px;color:#252d47;-webkit-text-stroke:0.2px #252d47">7</span>
<span class="t" style="left:599.40px;top:565.19px;font-size:23px;color:#252d47;-webkit-text-stroke:0.2px #252d47">5</span>
<span class="t" style="left:664.90px;top:565.39px;font-size:23px;color:#dc3f9a;-webkit-text-stroke:0px #dc3f9a">7</span>
<span class="t" style="left:677.90px;top:565.39px;font-size:23px;color:#dc3f9a;-webkit-text-stroke:0px #dc3f9a">.</span>
<span class="t" style="left:684.50px;top:565.39px;font-size:23px;color:#dc3f9a;-webkit-text-stroke:0px #dc3f9a">7</span>
<span class="t" style="left:697.50px;top:565.39px;font-size:23px;color:#dc3f9a;-webkit-text-stroke:0px #dc3f9a">9</span>
<span class="t" style="left:710.50px;top:565.39px;font-size:23px;color:#dc3f9a;-webkit-text-stroke:0px #dc3f9a">%</span>
<span class="t" style="left:770.80px;top:564.89px;font-size:23px;color:#dc3f9a;-webkit-text-stroke:0px #dc3f9a">2</span>
<span class="t" style="left:784.10px;top:564.89px;font-size:23px;color:#dc3f9a;-webkit-text-stroke:0px #dc3f9a">2</span>
<span class="t" style="left:797.40px;top:564.89px;font-size:23px;color:#dc3f9a;-webkit-text-stroke:0px #dc3f9a">%</span>
<span class="t" style="left:177.10px;top:625.07px;font-size:21.8px;color:#1f2742;-webkit-text-stroke:0.7px #1f2742">A</span>
<span class="t" style="left:192.05px;top:625.07px;font-size:21.8px;color:#1f2742;-webkit-text-stroke:0.7px #1f2742">P</span>
<span class="t" style="left:207.00px;top:625.07px;font-size:21.8px;color:#1f2742;-webkit-text-stroke:0.7px #1f2742">P</span>
<span class="t" style="left:422.30px;top:625.55px;font-size:23px;color:#252d47;-webkit-text-stroke:0.2px #252d47">9</span>
<span class="t" style="left:437.50px;top:625.55px;font-size:23px;color:#252d47;-webkit-text-stroke:0.2px #252d47">6</span>
<span class="t" style="left:515.30px;top:628.45px;font-size:23px;color:#252d47;-webkit-text-stroke:0.2px #252d47">$</span>
<span class="t" style="left:537.00px;top:628.45px;font-size:23px;color:#252d47;-webkit-text-stroke:0.2px #252d47">3</span>
<span class="t" style="left:550.76px;top:628.45px;font-size:23px;color:#252d47;-webkit-text-stroke:0.2px #252d47">3</span>
<span class="t" style="left:564.52px;top:628.45px;font-size:23px;color:#252d47;-webkit-text-stroke:0.2px #252d47">5</span>
<span class="t" style="left:578.28px;top:628.45px;font-size:23px;color:#252d47;-webkit-text-stroke:0.2px #252d47">.</span>
<span class="t" style="left:585.64px;top:628.45px;font-size:23px;color:#252d47;-webkit-text-stroke:0.2px #252d47">3</span>
<span class="t" style="left:599.40px;top:628.45px;font-size:23px;color:#252d47;-webkit-text-stroke:0.2px #252d47">0</span>
<span class="t" style="left:664.00px;top:628.65px;font-size:23px;color:#dc3f9a;-webkit-text-stroke:0px #dc3f9a">3</span>
<span class="t" style="left:677.23px;top:628.65px;font-size:23px;color:#dc3f9a;-webkit-text-stroke:0px #dc3f9a">.</span>
<span class="t" style="left:684.05px;top:628.65px;font-size:23px;color:#dc3f9a;-webkit-text-stroke:0px #dc3f9a">2</span>
<span class="t" style="left:697.27px;top:628.65px;font-size:23px;color:#dc3f9a;-webkit-text-stroke:0px #dc3f9a">9</span>
<span class="t" style="left:710.50px;top:628.65px;font-size:23px;color:#dc3f9a;-webkit-text-stroke:0px #dc3f9a">%</span>
<span class="t" style="left:773.50px;top:628.15px;font-size:23px;color:#dc3f9a;-webkit-text-stroke:0px #dc3f9a">4</span>
<span class="t" style="left:785.45px;top:628.15px;font-size:23px;color:#dc3f9a;-webkit-text-stroke:0px #dc3f9a">7</span>
<span class="t" style="left:797.40px;top:628.15px;font-size:23px;color:#dc3f9a;-webkit-text-stroke:0px #dc3f9a">%</span>
</body></html>
